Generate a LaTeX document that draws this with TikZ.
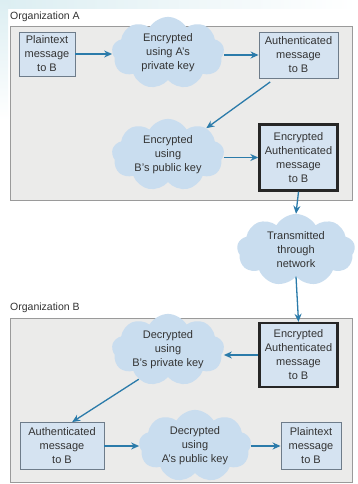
\documentclass[tikz,border=0pt]{standalone}
\usepackage{fontspec}
\setmainfont{Liberation Sans}
\usetikzlibrary{shapes.symbols,arrows.meta}
\definecolor{orgfill}{HTML}{EBEBEA}
\definecolor{orgline}{HTML}{9A9A9A}
\definecolor{boxfill}{HTML}{D5E3F1}
\definecolor{boxline}{HTML}{6E7C8A}
\definecolor{cloudfill}{HTML}{C9DDEF}
\definecolor{arrowc}{HTML}{2B7BAA}
\definecolor{txt}{HTML}{333333}
\definecolor{bgtint}{HTML}{DCEEF2}
\begin{document}
\begin{tikzpicture}[x=1pt,y=-1pt,
  every node/.style={font=\fontsize{11}{14}\selectfont, text=txt, align=center},
  org/.style={draw=orgline, fill=orgfill, line width=1pt, anchor=north west, inner sep=0pt},
  msg/.style={draw=boxline, fill=boxfill, line width=0.9pt, inner sep=0pt},
  emsg/.style={draw=black!85, fill=boxfill, line width=2.4pt, inner sep=0pt},
  cld/.style={cloud, cloud puffs=9, cloud puff arc=120, aspect=2, fill=cloudfill, inner sep=0pt, draw=none},
  flow/.style={draw=arrowc, line width=1.3pt, -{Stealth[length=8pt,width=7pt]}},
  lbl/.style={anchor=west, inner sep=0pt, font=\fontsize{10.5}{12}\selectfont}
]
\useasboundingbox (0,0) rectangle (357,484);
\fill[white] (0,0) rectangle (357,484);
\shade[left color=bgtint, right color=white] (0,0) rectangle (357,9);
\shade[top color=bgtint, bottom color=white] (0,0) rectangle (8,120);

% Organization A
\node[lbl] (labA) at (10,17) {Organization A};
\node[org, minimum width=342, minimum height=174] (orgA) at (10,26) {};
\node[msg, minimum width=56, minimum height=44] (plainA) at (47,54) {Plaintext\\message\\to B};
\node[cld, minimum width=110, minimum height=50] (cl1) at (168,53) {Encrypted\\using A's\\private key};
\node[msg, minimum width=79, minimum height=46] (authA) at (298.5,55) {Authenticated\\message\\to B};
\node[cld, minimum width=110, minimum height=66] (cl2) at (168,155) {Encrypted\\using\\B's public key};
\node[emsg, minimum width=78, minimum height=66] (encA) at (298.5,157.5) {Encrypted\\Authenticated\\message\\to B};

% network
\node[cld, minimum width=118, minimum height=72] (cl3) at (296,250) {Transmitted\\through\\network};

% Organization B
\node[lbl] (labB) at (10,308) {Organization B};
\node[org, minimum width=342, minimum height=164] (orgB) at (10,318) {};
\node[emsg, minimum width=78, minimum height=64] (encB) at (298.5,355) {Encrypted\\Authenticated\\message\\to B};
\node[cld, minimum width=110, minimum height=60] (cl4) at (168,350) {Decrypted\\using\\B's private key};
\node[msg, minimum width=84, minimum height=47] (authB) at (62,446) {Authenticated\\message\\to B};
\node[cld, minimum width=108, minimum height=60] (cl5) at (195,446) {Decrypted\\using\\A's public key};
\node[msg, minimum width=60, minimum height=47] (plainB) at (311,446) {Plaintext\\message\\to B};

% connectors
\draw[flow] (plainA.east) -- (cl1.west |- plainA.east);
\draw[flow] (cl1.east |- authA.west) -- (authA.west);
\draw[flow, shorten <=6pt] (authA.225) -- (cl2.35);
\draw[flow] (cl2.east |- encA.west) -- (encA.west);
\draw[flow] (encA.south) -- (cl3.north);
\draw[flow] (cl3.south) -- (encB.north);
\draw[flow] (encB.west) -- (cl4.east |- encB.west);
\draw[flow] (cl4.225) -- (authB.67);
\draw[flow] (authB.east) -- (cl5.west |- authB.east);
\draw[flow] (cl5.east |- plainB.west) -- (plainB.west);
\end{tikzpicture}
\end{document}
